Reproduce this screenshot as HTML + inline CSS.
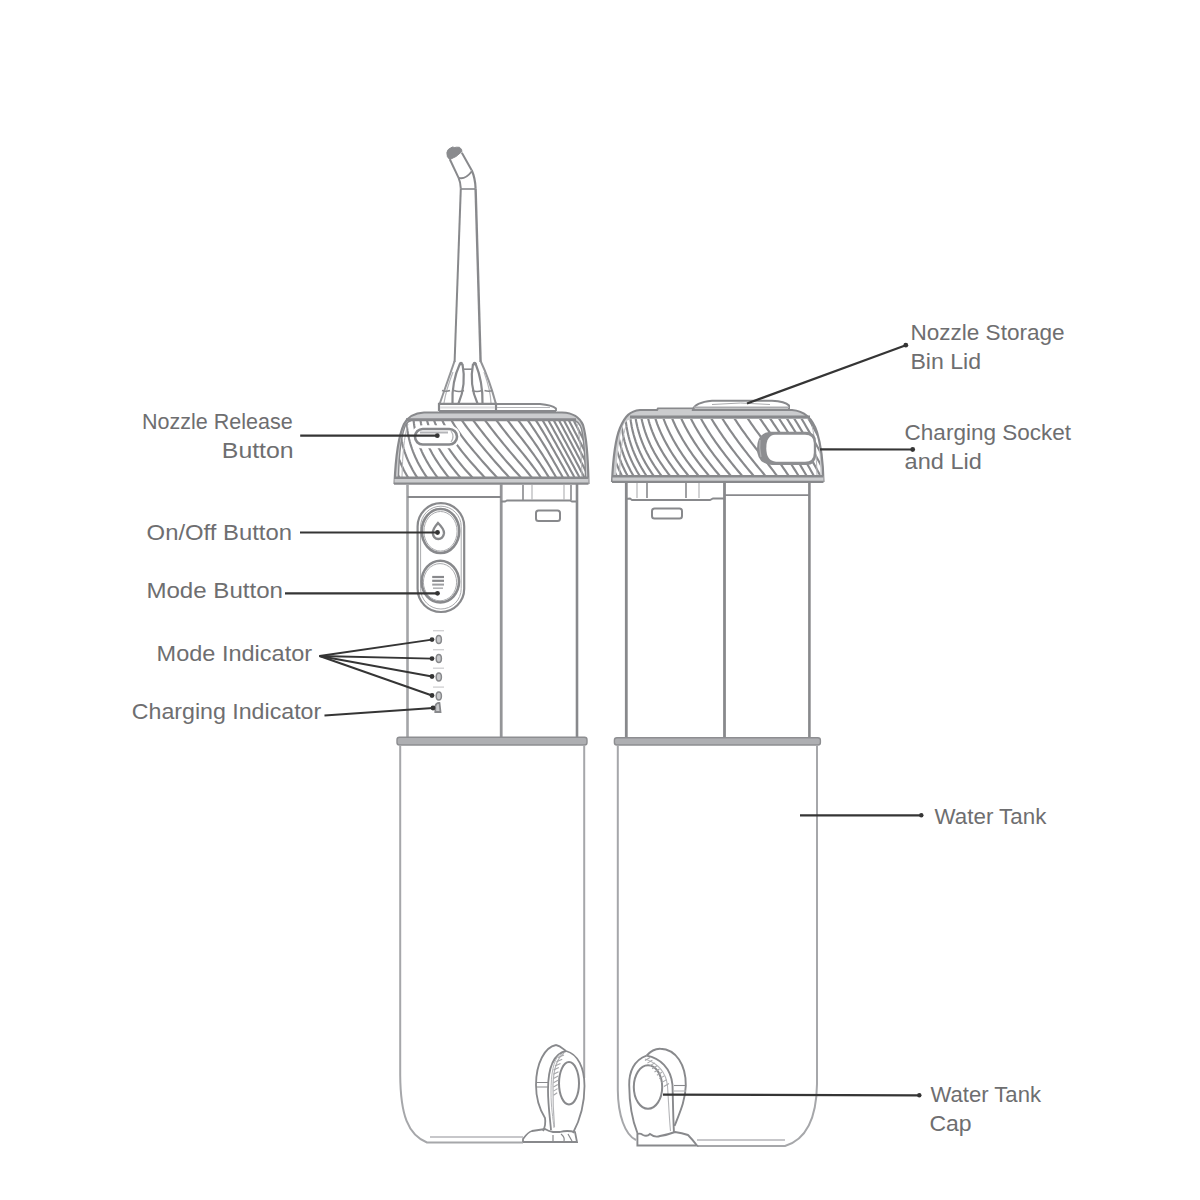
<!DOCTYPE html>
<html><head><meta charset="utf-8"><style>
html,body{margin:0;padding:0;background:#fff;}
svg{display:block;}
text{font-family:"Liberation Sans",sans-serif;}
</style></head><body>
<svg width="1200" height="1200" viewBox="0 0 1200 1200">
<defs><clipPath id="clipL"><path d="M398.5,477 C399,455 401,435 406,424 C408,421.5 410,421 414,421 L572,421 C577,421 580,424 581.5,429 C584,440 585,455 585.5,477 Z"/></clipPath><clipPath id="clipR"><path d="M616,475.5 C617,455 619,437 623,426 C626,420 629,419 634,419 L806,419 C811,419 814,421 816,428 C819,440 820,455 820.5,475.5 Z"/></clipPath></defs>
<rect width="1200" height="1200" fill="#fff"/>
<path d="M394.5,484 C395.5,460 398.5,436 404,424 C408,416.5 414,413 424,412.5 L562,412.5 C575,413 580,418 583,425 C586,435 588,455 588.5,484 Z" stroke="#88898c" stroke-width="0" fill="#cbccce" />
<path d="M398.5,477 C399,455 401,435 406,424 C408,421.5 410,421 414,421 L572,421 C577,421 580,424 581.5,429 C584,440 585,455 585.5,477 Z" stroke="#88898c" stroke-width="0" fill="#fff" />
<g clip-path="url(#clipL)" stroke="#88898c" stroke-width="2.15" fill="none">
<path d="M400.70,480.00 L399.27,477.42 L397.87,474.83 L396.54,472.25 L395.27,469.67 L394.07,467.08 L392.93,464.50 L391.86,461.92 L390.86,459.33 L389.92,456.75 L389.04,454.17 L388.23,451.58 L387.49,449.00 L386.81,446.42 L386.20,443.83 L385.65,441.25 L385.17,438.67 L384.76,436.08 L384.41,433.50 L384.12,430.92 L383.90,428.33 L383.75,425.75 L383.66,423.17 L383.64,420.58 L383.64,418.00"/>
<path d="M409.49,480.00 L407.94,477.42 L406.44,474.83 L405.02,472.25 L403.68,469.67 L402.43,467.08 L401.26,464.50 L400.17,461.92 L399.16,459.33 L398.22,456.75 L397.35,454.17 L396.54,451.58 L395.80,449.00 L395.12,446.42 L394.51,443.83 L393.96,441.25 L393.48,438.67 L393.06,436.08 L392.71,433.50 L392.43,430.92 L392.21,428.33 L392.06,425.75 L391.97,423.17 L391.95,420.58 L391.95,418.00"/>
<path d="M418.78,480.00 L417.12,477.42 L415.50,474.83 L413.96,472.25 L412.50,469.67 L411.13,467.08 L409.83,464.50 L408.62,461.92 L407.49,459.33 L406.43,456.75 L405.46,454.17 L404.56,451.58 L403.75,449.00 L403.01,446.42 L402.35,443.83 L401.76,441.25 L401.25,438.67 L400.81,436.08 L400.45,433.50 L400.16,430.92 L399.93,428.33 L399.78,425.75 L399.69,423.17 L399.67,420.58 L399.67,418.00"/>
<path d="M428.70,480.00 L426.91,477.42 L425.16,474.83 L423.49,472.25 L421.89,469.67 L420.38,467.08 L418.95,464.50 L417.61,461.92 L416.34,459.33 L415.15,456.75 L414.05,454.17 L413.02,451.58 L412.07,449.00 L411.19,446.42 L410.39,443.83 L409.67,441.25 L409.02,438.67 L408.45,436.08 L407.95,433.50 L407.52,430.92 L407.16,428.33 L406.88,425.75 L406.66,423.17 L406.51,420.58 L406.38,418.00"/>
<path d="M439.36,480.00 L437.43,477.42 L435.54,474.83 L433.71,472.25 L431.96,469.67 L430.27,467.08 L428.67,464.50 L427.14,461.92 L425.69,459.33 L424.33,456.75 L423.04,454.17 L421.85,451.58 L420.74,449.00 L419.72,446.42 L418.78,443.83 L417.91,441.25 L417.12,438.67 L416.41,436.08 L415.77,433.50 L415.20,430.92 L414.70,428.33 L414.27,425.75 L413.91,423.17 L413.62,420.58 L413.36,418.00"/>
<path d="M450.81,480.00 L448.71,477.42 L446.66,474.83 L444.67,472.25 L442.74,469.67 L440.87,467.08 L439.08,464.50 L437.35,461.92 L435.69,459.33 L434.11,456.75 L432.61,454.17 L431.18,451.58 L429.83,449.00 L428.57,446.42 L427.39,443.83 L426.29,441.25 L425.28,438.67 L424.35,436.08 L423.50,433.50 L422.74,430.92 L422.06,428.33 L421.46,425.75 L420.94,423.17 L420.49,420.58 L420.09,418.00"/>
<path d="M462.60,480.00 L460.33,477.42 L458.10,474.83 L455.93,472.25 L453.83,469.67 L451.78,467.08 L449.80,464.50 L447.88,461.92 L446.03,459.33 L444.25,456.75 L442.53,454.17 L440.87,451.58 L439.29,449.00 L437.77,446.42 L436.34,443.83 L434.98,441.25 L433.71,438.67 L432.52,436.08 L431.41,433.50 L430.38,430.92 L429.43,428.33 L428.56,425.75 L427.78,423.17 L427.07,420.58 L426.41,418.00"/>
<path d="M474.70,480.00 L472.32,477.42 L469.95,474.83 L467.60,472.25 L465.31,469.67 L463.08,467.08 L460.91,464.50 L458.80,461.92 L456.75,459.33 L454.77,456.75 L452.85,454.17 L450.99,451.58 L449.21,449.00 L447.48,446.42 L445.83,443.83 L444.24,441.25 L442.73,438.67 L441.28,436.08 L439.89,433.50 L438.58,430.92 L437.35,428.33 L436.20,425.75 L435.13,423.17 L434.14,420.58 L433.20,418.00"/>
<path d="M487.00,480.00 L484.62,477.42 L482.25,474.83 L479.90,472.25 L477.57,469.67 L475.26,467.08 L472.97,464.50 L470.71,461.92 L468.46,459.33 L466.26,456.75 L464.12,454.17 L462.05,451.58 L460.04,449.00 L458.10,446.42 L456.22,443.83 L454.41,441.25 L452.67,438.67 L450.99,436.08 L449.39,433.50 L447.85,430.92 L446.38,428.33 L444.97,425.75 L443.64,423.17 L442.37,420.58 L441.15,418.00"/>
<path d="M499.30,480.00 L496.92,477.42 L494.55,474.83 L492.20,472.25 L489.87,469.67 L487.56,467.08 L485.27,464.50 L483.01,461.92 L480.76,459.33 L478.53,456.75 L476.32,454.17 L474.14,451.58 L471.97,449.00 L469.82,446.42 L467.70,443.83 L465.64,441.25 L463.65,438.67 L461.73,436.08 L459.87,433.50 L458.09,430.92 L456.37,428.33 L454.72,425.75 L453.14,423.17 L451.63,420.58 L450.16,418.00"/>
<path d="M511.60,480.00 L509.22,477.42 L506.85,474.83 L504.50,472.25 L502.17,469.67 L499.86,467.08 L497.57,464.50 L495.31,461.92 L493.06,459.33 L490.83,456.75 L488.62,454.17 L486.44,451.58 L484.27,449.00 L482.12,446.42 L479.99,443.83 L477.89,441.25 L475.80,438.67 L473.74,436.08 L471.69,433.50 L469.66,430.92 L467.67,428.33 L465.74,425.75 L463.88,423.17 L462.10,420.58 L460.36,418.00"/>
<path d="M523.14,480.00 L520.85,477.42 L518.51,474.83 L516.16,472.25 L513.83,469.67 L511.52,467.08 L509.23,464.50 L506.96,461.92 L504.71,459.33 L502.49,456.75 L500.28,454.17 L498.09,451.58 L495.92,449.00 L493.78,446.42 L491.65,443.83 L489.54,441.25 L487.46,438.67 L485.39,436.08 L483.35,433.50 L481.32,430.92 L479.32,428.33 L477.33,425.75 L475.37,423.17 L473.42,420.58 L471.48,418.00"/>
<path d="M533.67,480.00 L531.67,477.42 L529.62,474.83 L527.53,472.25 L525.40,469.67 L523.23,467.08 L521.03,464.50 L518.78,461.92 L516.54,459.33 L514.31,456.75 L512.10,454.17 L509.91,451.58 L507.75,449.00 L505.60,446.42 L503.47,443.83 L501.37,441.25 L499.28,438.67 L497.21,436.08 L495.17,433.50 L493.14,430.92 L491.14,428.33 L489.15,425.75 L487.19,423.17 L485.24,420.58 L483.31,418.00"/>
<path d="M542.62,480.00 L540.87,477.42 L539.07,474.83 L537.23,472.25 L535.36,469.67 L533.45,467.08 L531.50,464.50 L529.52,461.92 L527.51,459.33 L525.46,456.75 L523.38,454.17 L521.27,451.58 L519.13,449.00 L516.99,446.42 L514.86,443.83 L512.75,441.25 L510.67,438.67 L508.60,436.08 L506.56,433.50 L504.53,430.92 L502.53,428.33 L500.54,425.75 L498.58,423.17 L496.63,420.58 L494.70,418.00"/>
<path d="M550.43,480.00 L548.88,477.42 L547.30,474.83 L545.68,472.25 L544.03,469.67 L542.35,467.08 L540.63,464.50 L538.88,461.92 L537.09,459.33 L535.28,456.75 L533.43,454.17 L531.55,451.58 L529.64,449.00 L527.71,446.42 L525.75,443.83 L523.77,441.25 L521.76,438.67 L519.73,436.08 L517.68,433.50 L515.66,430.92 L513.65,428.33 L511.67,425.75 L509.70,423.17 L507.76,420.58 L505.82,418.00"/>
<path d="M557.64,480.00 L556.14,477.42 L554.63,474.83 L553.12,472.25 L551.60,469.67 L550.08,467.08 L548.56,464.50 L547.01,461.92 L545.42,459.33 L543.80,456.75 L542.16,454.17 L540.48,451.58 L538.78,449.00 L537.05,446.42 L535.29,443.83 L533.51,441.25 L531.70,438.67 L529.87,436.08 L528.02,433.50 L526.15,430.92 L524.26,428.33 L522.35,425.75 L520.43,423.17 L518.49,420.58 L516.56,418.00"/>
<path d="M564.32,480.00 L562.86,477.42 L561.40,474.83 L559.93,472.25 L558.45,469.67 L556.97,467.08 L555.49,464.50 L554.00,461.92 L552.51,459.33 L551.02,456.75 L549.52,454.17 L548.02,451.58 L546.48,449.00 L544.92,446.42 L543.34,443.83 L541.73,441.25 L540.09,438.67 L538.43,436.08 L536.75,433.50 L535.05,430.92 L533.32,428.33 L531.58,425.75 L529.83,423.17 L528.05,420.58 L526.25,418.00"/>
<path d="M570.39,480.00 L568.97,477.42 L567.54,474.83 L566.11,472.25 L564.67,469.67 L563.23,467.08 L561.78,464.50 L560.33,461.92 L558.88,459.33 L557.42,456.75 L555.96,454.17 L554.49,451.58 L553.03,449.00 L551.56,446.42 L550.09,443.83 L548.62,441.25 L547.13,438.67 L545.61,436.08 L544.07,433.50 L542.51,430.92 L540.93,428.33 L539.33,425.75 L537.71,423.17 L536.07,420.58 L534.41,418.00"/>
<path d="M575.85,480.00 L574.47,477.42 L573.07,474.83 L571.68,472.25 L570.27,469.67 L568.86,467.08 L567.45,464.50 L566.03,461.92 L564.61,459.33 L563.18,456.75 L561.75,454.17 L560.31,451.58 L558.87,449.00 L557.43,446.42 L555.99,443.83 L554.55,441.25 L553.10,438.67 L551.66,436.08 L550.21,433.50 L548.77,430.92 L547.30,428.33 L545.82,425.75 L544.31,423.17 L542.79,420.58 L541.25,418.00"/>
<path d="M580.82,480.00 L579.47,477.42 L578.11,474.83 L576.74,472.25 L575.37,469.67 L573.99,467.08 L572.61,464.50 L571.22,461.92 L569.82,459.33 L568.42,456.75 L567.02,454.17 L565.61,451.58 L564.20,449.00 L562.78,446.42 L561.37,443.83 L559.95,441.25 L558.53,438.67 L557.10,436.08 L555.68,433.50 L554.25,430.92 L552.83,428.33 L551.40,425.75 L549.98,423.17 L548.56,420.58 L547.11,418.00"/>
<path d="M585.63,480.00 L584.31,477.42 L582.98,474.83 L581.64,472.25 L580.30,469.67 L578.95,467.08 L577.60,464.50 L576.23,461.92 L574.87,459.33 L573.49,456.75 L572.11,454.17 L570.73,451.58 L569.35,449.00 L567.96,446.42 L566.56,443.83 L565.17,441.25 L563.77,438.67 L562.37,436.08 L560.96,433.50 L559.56,430.92 L558.15,428.33 L556.75,425.75 L555.34,423.17 L553.94,420.58 L552.53,418.00"/>
<path d="M590.27,480.00 L588.98,477.42 L587.68,474.83 L586.38,472.25 L585.06,469.67 L583.74,467.08 L582.41,464.50 L581.08,461.92 L579.74,459.33 L578.39,456.75 L577.04,454.17 L575.68,451.58 L574.32,449.00 L572.95,446.42 L571.58,443.83 L570.21,441.25 L568.83,438.67 L567.45,436.08 L566.07,433.50 L564.68,430.92 L563.30,428.33 L561.91,425.75 L560.52,423.17 L559.14,420.58 L557.74,418.00"/>
<path d="M594.77,480.00 L593.48,477.42 L592.19,474.83 L590.90,472.25 L589.61,469.67 L588.31,467.08 L587.01,464.50 L585.70,461.92 L584.39,459.33 L583.06,456.75 L581.74,454.17 L580.40,451.58 L579.06,449.00 L577.72,446.42 L576.37,443.83 L575.02,441.25 L573.66,438.67 L572.30,436.08 L570.94,433.50 L569.57,430.92 L568.21,428.33 L566.84,425.75 L565.47,423.17 L564.09,420.58 L562.72,418.00"/>
<path d="M599.27,480.00 L597.98,477.42 L596.69,474.83 L595.40,472.25 L594.11,469.67 L592.81,467.08 L591.52,464.50 L590.23,461.92 L588.94,459.33 L587.64,456.75 L586.34,454.17 L585.03,451.58 L583.71,449.00 L582.39,446.42 L581.06,443.83 L579.73,441.25 L578.40,438.67 L577.06,436.08 L575.71,433.50 L574.36,430.92 L573.01,428.33 L571.66,425.75 L570.31,423.17 L568.95,420.58 L567.59,418.00"/>
<path d="M603.77,480.00 L602.48,477.42 L601.19,474.83 L599.90,472.25 L598.61,469.67 L597.31,467.08 L596.02,464.50 L594.73,461.92 L593.44,459.33 L592.15,456.75 L590.86,454.17 L589.56,451.58 L588.27,449.00 L586.97,446.42 L585.66,443.83 L584.35,441.25 L583.04,438.67 L581.72,436.08 L580.39,433.50 L579.06,430.92 L577.73,428.33 L576.40,425.75 L575.06,423.17 L573.72,420.58 L572.37,418.00"/>
<path d="M608.27,480.00 L606.98,477.42 L605.69,474.83 L604.40,472.25 L603.11,469.67 L601.81,467.08 L600.52,464.50 L599.23,461.92 L597.94,459.33 L596.65,456.75 L595.36,454.17 L594.06,451.58 L592.77,449.00 L591.48,446.42 L590.19,443.83 L588.90,441.25 L587.60,438.67 L586.30,436.08 L584.99,433.50 L583.68,430.92 L582.37,428.33 L581.05,425.75 L579.73,423.17 L578.40,420.58 L577.07,418.00"/>
<path d="M612.77,480.00 L611.48,477.42 L610.19,474.83 L608.90,472.25 L607.61,469.67 L606.31,467.08 L605.02,464.50 L603.73,461.92 L602.44,459.33 L601.15,456.75 L599.86,454.17 L598.56,451.58 L597.27,449.00 L595.98,446.42 L594.69,443.83 L593.40,441.25 L592.11,438.67 L590.81,436.08 L589.52,433.50 L588.23,430.92 L586.93,428.33 L585.63,425.75 L584.32,423.17 L583.01,420.58 L581.70,418.00"/>
<path d="M617.27,480.00 L615.98,477.42 L614.69,474.83 L613.40,472.25 L612.11,469.67 L610.81,467.08 L609.52,464.50 L608.23,461.92 L606.94,459.33 L605.65,456.75 L604.36,454.17 L603.06,451.58 L601.77,449.00 L600.48,446.42 L599.19,443.83 L597.90,441.25 L596.61,438.67 L595.31,436.08 L594.02,433.50 L592.73,430.92 L591.44,428.33 L590.15,425.75 L588.86,423.17 L587.56,420.58 L586.26,418.00"/>
<path d="M621.77,480.00 L620.48,477.42 L619.19,474.83 L617.90,472.25 L616.61,469.67 L615.31,467.08 L614.02,464.50 L612.73,461.92 L611.44,459.33 L610.15,456.75 L608.86,454.17 L607.56,451.58 L606.27,449.00 L604.98,446.42 L603.69,443.83 L602.40,441.25 L601.11,438.67 L599.81,436.08 L598.52,433.50 L597.23,430.92 L595.94,428.33 L594.65,425.75 L593.36,423.17 L592.06,420.58 L590.77,418.00"/>
<path d="M626.27,480.00 L624.98,477.42 L623.69,474.83 L622.40,472.25 L621.11,469.67 L619.81,467.08 L618.52,464.50 L617.23,461.92 L615.94,459.33 L614.65,456.75 L613.36,454.17 L612.06,451.58 L610.77,449.00 L609.48,446.42 L608.19,443.83 L606.90,441.25 L605.61,438.67 L604.31,436.08 L603.02,433.50 L601.73,430.92 L600.44,428.33 L599.15,425.75 L597.86,423.17 L596.56,420.58 L595.27,418.00"/>
<path d="M630.77,480.00 L629.48,477.42 L628.19,474.83 L626.90,472.25 L625.61,469.67 L624.31,467.08 L623.02,464.50 L621.73,461.92 L620.44,459.33 L619.15,456.75 L617.86,454.17 L616.56,451.58 L615.27,449.00 L613.98,446.42 L612.69,443.83 L611.40,441.25 L610.11,438.67 L608.81,436.08 L607.52,433.50 L606.23,430.92 L604.94,428.33 L603.65,425.75 L602.36,423.17 L601.06,420.58 L599.77,418.00"/>
<path d="M635.27,480.00 L633.98,477.42 L632.69,474.83 L631.40,472.25 L630.11,469.67 L628.81,467.08 L627.52,464.50 L626.23,461.92 L624.94,459.33 L623.65,456.75 L622.36,454.17 L621.06,451.58 L619.77,449.00 L618.48,446.42 L617.19,443.83 L615.90,441.25 L614.61,438.67 L613.31,436.08 L612.02,433.50 L610.73,430.92 L609.44,428.33 L608.15,425.75 L606.86,423.17 L605.56,420.58 L604.27,418.00"/>
<path d="M639.77,480.00 L638.48,477.42 L637.19,474.83 L635.90,472.25 L634.61,469.67 L633.31,467.08 L632.02,464.50 L630.73,461.92 L629.44,459.33 L628.15,456.75 L626.86,454.17 L625.56,451.58 L624.27,449.00 L622.98,446.42 L621.69,443.83 L620.40,441.25 L619.11,438.67 L617.81,436.08 L616.52,433.50 L615.23,430.92 L613.94,428.33 L612.65,425.75 L611.36,423.17 L610.06,420.58 L608.77,418.00"/>
</g>
<path d="M394.5,484 C395.5,460 398.5,436 404,424 C408,416.5 414,413 424,412.5 L562,412.5 C575,413 580,418 583,425 C586,435 588,455 588.5,484" stroke="#88898c" stroke-width="2.2" fill="none" />
<path d="M398.5,477 C399,455 401,435 406,424 C408,421.5 410,420.5 414,419.8 L572,419.8 C577,420.5 580,424 581.5,429 C584,440 585,455 585.5,477" stroke="#88898c" stroke-width="1.4" fill="none" />
<line x1="406" y1="419.7" x2="576" y2="419.7" stroke="#88898c" stroke-width="3.0" />
<path d="M402,477 C402.5,455 404,437 408,424" stroke="#b4b5b8" stroke-width="1.0" fill="none" />
<path d="M582,477 C581.5,455 580,437 577,424" stroke="#b4b5b8" stroke-width="1.0" fill="none" />
<rect x="394.5" y="477.5" width="194" height="6.5" rx="0" stroke="#88898c" stroke-width="0" fill="#cbccce" />
<line x1="394" y1="477.8" x2="588.5" y2="477.8" stroke="#88898c" stroke-width="2.6" />
<line x1="394" y1="483.6" x2="588.5" y2="483.6" stroke="#88898c" stroke-width="2.2" />
<rect x="413.5" y="427.5" width="44.5" height="18.5" rx="9.2" stroke="#fff" stroke-width="4.5" fill="#fff" />
<rect x="415" y="429" width="42" height="15.5" rx="7.7" stroke="#88898c" stroke-width="2.6" fill="#fff" />
<path d="M420,432.5 L448,432.5" stroke="#b4b5b8" stroke-width="2.0" fill="none" />
<path d="M451,431 Q455,436.5 451,442" stroke="#b4b5b8" stroke-width="1.2" fill="none" />
<path d="M446.9,152.5 Q447.5,149 451,147.8 L452.5,147 Q455,148 456.5,147.2 L459.5,147.3 Q462,149 462,151.5 L456,156.5 L449.8,159.5 Q446.5,157.5 446.9,152.5 Z" stroke="#8a8b8e" stroke-width="1.0" fill="#8a8b8e" />
<path d="M449.8,159.3 L458.6,177.9" stroke="#88898c" stroke-width="2.0" fill="none" />
<path d="M461.8,152.8 L471.7,170.3" stroke="#88898c" stroke-width="2.0" fill="none" />
<path d="M458.6,177.9 Q465,180 471.7,171.5" stroke="#88898c" stroke-width="2.0" fill="none" />
<path d="M458.6,177.9 Q460.5,182 460.8,188.6" stroke="#88898c" stroke-width="2.0" fill="none" />
<path d="M471.7,170.3 Q475.2,178 475.6,188.6" stroke="#88898c" stroke-width="2.2" fill="none" />
<line x1="460.8" y1="189" x2="475.6" y2="189" stroke="#88898c" stroke-width="1.6" />
<path d="M460.8,188.6 L454.6,362" stroke="#88898c" stroke-width="2.0" fill="none" />
<path d="M475.6,188.6 L480.6,362" stroke="#88898c" stroke-width="2.4" fill="none" />
<path d="M454.6,361 Q447,383 439.8,403.5" stroke="#939497" stroke-width="2.0" fill="none" />
<path d="M453,372 Q446,390 444,403" stroke="#b4b5b8" stroke-width="1.2" fill="none" />
<path d="M460,363.5 Q451.5,382 452.5,403.5" stroke="#88898c" stroke-width="2.2" fill="none" />
<path d="M462.5,364 Q466.5,385 458.5,403.5" stroke="#88898c" stroke-width="2.2" fill="none" />
<path d="M475.5,363.5 Q483,382 482.5,403.5" stroke="#88898c" stroke-width="2.2" fill="none" />
<path d="M473,364 Q469,385 477.5,403.5" stroke="#88898c" stroke-width="2.2" fill="none" />
<path d="M480.6,361 Q489.5,380 495.8,403.5" stroke="#939497" stroke-width="2.0" fill="none" />
<path d="M484,372 Q490.5,390 491,403" stroke="#b4b5b8" stroke-width="1.2" fill="none" />
<ellipse cx="461" cy="363.6" rx="2.0" ry="1.8" stroke="#88898c" stroke-width="0" fill="#88898c" />
<ellipse cx="474.6" cy="363.6" rx="2.0" ry="1.8" stroke="#88898c" stroke-width="0" fill="#88898c" />
<line x1="463.7" y1="369.2" x2="472.5" y2="369.2" stroke="#88898c" stroke-width="1.6" />
<path d="M442,390.5 Q446,392 450,390.5 M454,390.5 Q459,392.5 464,390.5 M472,390.5 Q477,392.5 482,390.5 M484.5,390.5 Q489,392 492.5,390.5" stroke="#88898c" stroke-width="1.6" fill="none" />
<path d="M439,411 L439,403.8 L496,403.8 L496,411" stroke="#88898c" stroke-width="2.2" fill="none" />
<path d="M496,404 L540,404 Q552,405 556,408.5 L556,411" stroke="#88898c" stroke-width="1.8" fill="none" />
<line x1="440" y1="407.6" x2="495" y2="407.6" stroke="#dcdcde" stroke-width="2.0" />
<line x1="497" y1="407.5" x2="550" y2="407.5" stroke="#b4b5b8" stroke-width="1.2" />
<line x1="439" y1="411" x2="556" y2="411" stroke="#88898c" stroke-width="2.2" />
<line x1="407.5" y1="484" x2="407.5" y2="737" stroke="#a4a5a8" stroke-width="2.6" />
<line x1="501.2" y1="484" x2="501.2" y2="737" stroke="#949598" stroke-width="2.8" />
<line x1="577" y1="484" x2="577" y2="737" stroke="#88898c" stroke-width="2.6" />
<line x1="407.5" y1="497" x2="501" y2="497" stroke="#88898c" stroke-width="1.8" />
<path d="M501,501.5 L505,501.5 L507,500.5 L570,500.5 L572,501.5 L577,501.5" stroke="#88898c" stroke-width="1.8" fill="none" />
<line x1="523" y1="485" x2="523" y2="500" stroke="#88898c" stroke-width="1.6" />
<line x1="532" y1="485" x2="532" y2="500" stroke="#b4b5b8" stroke-width="1.2" />
<line x1="564" y1="485" x2="564" y2="500" stroke="#b4b5b8" stroke-width="1.2" />
<line x1="571" y1="485" x2="571" y2="500" stroke="#88898c" stroke-width="1.6" />
<rect x="536" y="510.5" width="24" height="10.5" rx="2.5" stroke="#88898c" stroke-width="2.0" fill="none" />
<rect x="417.6" y="503.2" width="46.6" height="108.8" rx="23.3" stroke="#88898c" stroke-width="2.2" fill="none" />
<rect x="420.6" y="506.2" width="40.6" height="102.8" rx="20.3" stroke="#a9aaad" stroke-width="1.0" fill="none" />
<ellipse cx="440.5" cy="531.0" rx="18.7" ry="22.0" stroke="#88898c" stroke-width="2.6" fill="none" />
<ellipse cx="440.5" cy="531.3" rx="16.6" ry="19.8" stroke="#a9aaad" stroke-width="1.0" fill="none" />
<ellipse cx="440.3" cy="581.6" rx="18.7" ry="20.8" stroke="#88898c" stroke-width="2.6" fill="none" />
<ellipse cx="440.0" cy="582.2" rx="16.6" ry="18.6" stroke="#a9aaad" stroke-width="1.0" fill="none" />
<path d="M438,523 C434,527.5 432.6,530.5 432.8,533.2 C433.2,537 435.5,539 438.3,539 C441,539 443.6,537 444,533.2 C444.2,530.5 442.6,527.5 438,523 Z" stroke="#88898c" stroke-width="2.4" fill="none" />
<line x1="432.2" y1="577.0" x2="444" y2="577.0" stroke="#88898c" stroke-width="2.2" />
<line x1="432.2" y1="580.8" x2="444" y2="580.8" stroke="#88898c" stroke-width="2.2" />
<line x1="432.2" y1="584.6" x2="444" y2="584.6" stroke="#9d9ea1" stroke-width="2.0" />
<line x1="433" y1="588.2" x2="443" y2="588.2" stroke="#b3b4b6" stroke-width="1.6" />
<ellipse cx="438.8" cy="639.5" rx="2.6" ry="4.0" stroke="#88898c" stroke-width="1.5" fill="#c9cacc" />
<line x1="433" y1="630.7" x2="444" y2="630.7" stroke="#d2d2d4" stroke-width="1.4" />
<ellipse cx="438.8" cy="658.5" rx="2.6" ry="4.0" stroke="#88898c" stroke-width="1.5" fill="#c9cacc" />
<line x1="433" y1="649.7" x2="444" y2="649.7" stroke="#d2d2d4" stroke-width="1.4" />
<ellipse cx="438.8" cy="677" rx="2.6" ry="4.0" stroke="#88898c" stroke-width="1.5" fill="#c9cacc" />
<line x1="433" y1="668.2" x2="444" y2="668.2" stroke="#d2d2d4" stroke-width="1.4" />
<ellipse cx="438.8" cy="695.9" rx="2.6" ry="4.0" stroke="#88898c" stroke-width="1.5" fill="#c9cacc" />
<line x1="433" y1="687.1" x2="444" y2="687.1" stroke="#d2d2d4" stroke-width="1.4" />
<path d="M435.3,712 L435.3,706 Q436.5,702.6 439.5,703 L440.5,712 Z" stroke="#88898c" stroke-width="1.8" fill="#c8c9cb" />
<rect x="397" y="737.2" width="190" height="7.8" rx="2.5" stroke="#8d8e91" stroke-width="1.4" fill="#aeafb2" />
<path d="M400.2,745 L400.2,1075 C400.5,1115 408,1135 427,1142.5 L523,1142.5" stroke="#a6a7aa" stroke-width="2.0" fill="none" />
<line x1="430" y1="1137" x2="523" y2="1137" stroke="#b4b5b8" stroke-width="1.4" />
<line x1="584.2" y1="745" x2="584.2" y2="1078" stroke="#a6a7aa" stroke-width="2.0" />
<path d="M556,1045 C545,1047 536,1063 536,1085 C536,1100 540,1110 545,1118 C546,1124 544,1129 543,1131" stroke="#88898c" stroke-width="1.8" fill="none" />
<path d="M556,1045 C561,1046 563,1049 566,1051" stroke="#88898c" stroke-width="1.8" fill="none" />
<path d="M566,1051 C578,1054 584.5,1068 584.5,1086 C584.5,1105 580,1120 573,1133" stroke="#88898c" stroke-width="1.8" fill="none" />
<path d="M566,1051 C553,1054 548,1070 548,1090 C548,1105 550,1118 551,1130" stroke="#88898c" stroke-width="1.8" fill="none" />
<path d="M560,1054 C553,1060 551,1075 551,1092 C551,1108 553,1118 554,1128" stroke="#b4b5b8" stroke-width="1.0" fill="none" />
<ellipse cx="569" cy="1083.3" rx="10" ry="21.2" stroke="#88898c" stroke-width="2.0" fill="none" />
<line x1="536" y1="1082.5" x2="548" y2="1082.5" stroke="#88898c" stroke-width="1.0" />
<line x1="536" y1="1087" x2="548" y2="1087" stroke="#88898c" stroke-width="1.0" />
<path d="M523,1142 L523,1139 Q528,1132 532,1131 L545,1129 Q548,1131 553,1132 L560,1132 Q567,1130 575,1132 L577,1142 L523,1142" stroke="#88898c" stroke-width="1.8" fill="none" />
<path d="M553,1135 L553,1141 M561,1134 Q565,1137 564,1141 M568,1134 L572,1141" stroke="#88898c" stroke-width="1.2" fill="none" />
<path d="M564,1053 C557,1058 553.5,1070 553,1085 C552.8,1100 553.5,1115 554.5,1127" stroke="#b4b5b8" stroke-width="1.2" fill="none" />
<line x1="558.0" y1="1057.5" x2="564.0" y2="1055.0" stroke="#a5a6a9" stroke-width="1.1" />
<line x1="556.5" y1="1061.7" x2="562.2" y2="1059.2" stroke="#a5a6a9" stroke-width="1.1" />
<line x1="555.0" y1="1065.9" x2="560.5" y2="1063.4" stroke="#a5a6a9" stroke-width="1.1" />
<line x1="553.5" y1="1070.1" x2="558.8" y2="1067.6" stroke="#a5a6a9" stroke-width="1.1" />
<line x1="553.5" y1="1074.3" x2="558.5" y2="1071.8" stroke="#a5a6a9" stroke-width="1.1" />
<line x1="553.5" y1="1078.5" x2="558.2" y2="1076.0" stroke="#a5a6a9" stroke-width="1.1" />
<line x1="553.5" y1="1082.7" x2="558.0" y2="1080.2" stroke="#a5a6a9" stroke-width="1.1" />
<line x1="553.5" y1="1086.9" x2="557.8" y2="1084.4" stroke="#a5a6a9" stroke-width="1.1" />
<line x1="553.5" y1="1091.1" x2="557.5" y2="1088.6" stroke="#a5a6a9" stroke-width="1.1" />
<line x1="553.5" y1="1095.3" x2="557.2" y2="1092.8" stroke="#a5a6a9" stroke-width="1.1" />
<path d="M612,482 C613,460 615,440 620,428 C625,416 630,411 640,410 L792,410 C806,411 813,420 817,432 C821,445 823,460 823.5,482 Z" stroke="#88898c" stroke-width="0" fill="#cbccce" />
<path d="M616,475.5 C617,455 619,437 623,426 C626,420 629,419 634,419 L806,419 C811,419 814,421 816,428 C819,440 820,455 820.5,475.5 Z" stroke="#88898c" stroke-width="0" fill="#fff" />
<g clip-path="url(#clipR)" stroke="#88898c" stroke-width="2.15" fill="none">
<path d="M618.00,478.50 L616.70,475.90 L615.41,473.29 L614.19,470.69 L613.01,468.08 L611.89,465.48 L610.82,462.87 L609.81,460.27 L608.85,457.67 L607.94,455.06 L607.09,452.46 L606.30,449.85 L605.55,447.25 L604.86,444.65 L604.23,442.04 L603.65,439.44 L603.12,436.83 L602.65,434.23 L602.23,431.62 L601.86,429.02 L601.55,426.42 L601.29,423.81 L601.09,421.21 L600.94,418.60 L600.81,416.00"/>
<path d="M623.40,478.50 L622.04,475.90 L620.73,473.29 L619.49,470.69 L618.31,468.08 L617.19,465.48 L616.12,462.87 L615.11,460.27 L614.15,457.67 L613.25,455.06 L612.40,452.46 L611.60,449.85 L610.86,447.25 L610.17,444.65 L609.53,442.04 L608.95,439.44 L608.42,436.83 L607.95,434.23 L607.53,431.62 L607.17,429.02 L606.85,426.42 L606.60,423.81 L606.39,421.21 L606.25,418.60 L606.12,416.00"/>
<path d="M629.07,478.50 L627.63,475.90 L626.22,473.29 L624.90,470.69 L623.64,468.08 L622.46,465.48 L621.35,462.87 L620.32,460.27 L619.35,457.67 L618.45,455.06 L617.60,452.46 L616.80,449.85 L616.06,447.25 L615.37,444.65 L614.73,442.04 L614.15,439.44 L613.62,436.83 L613.15,434.23 L612.73,431.62 L612.37,429.02 L612.06,426.42 L611.80,423.81 L611.60,421.21 L611.45,418.60 L611.32,416.00"/>
<path d="M635.02,478.50 L633.49,475.90 L631.99,473.29 L630.57,470.69 L629.23,468.08 L627.96,465.48 L626.76,462.87 L625.63,460.27 L624.58,457.67 L623.60,455.06 L622.68,452.46 L621.84,449.85 L621.07,447.25 L620.36,444.65 L619.72,442.04 L619.13,439.44 L618.61,436.83 L618.13,434.23 L617.72,431.62 L617.35,429.02 L617.04,426.42 L616.78,423.81 L616.58,421.21 L616.43,418.60 L616.30,416.00"/>
<path d="M641.40,478.50 L639.76,475.90 L638.17,473.29 L636.65,470.69 L635.21,468.08 L633.84,465.48 L632.55,462.87 L631.32,460.27 L630.18,457.67 L629.10,455.06 L628.09,452.46 L627.15,449.85 L626.29,447.25 L625.49,444.65 L624.75,442.04 L624.09,439.44 L623.48,436.83 L622.95,434.23 L622.47,431.62 L622.06,429.02 L621.71,426.42 L621.42,423.81 L621.19,421.21 L621.02,418.60 L620.87,416.00"/>
<path d="M648.26,478.50 L646.50,475.90 L644.79,473.29 L643.17,470.69 L641.61,468.08 L640.14,465.48 L638.74,462.87 L637.42,460.27 L636.17,457.67 L634.99,455.06 L633.88,452.46 L632.84,449.85 L631.88,447.25 L630.98,444.65 L630.15,442.04 L629.38,439.44 L628.68,436.83 L628.05,434.23 L627.48,431.62 L626.98,429.02 L626.53,426.42 L626.15,423.81 L625.83,421.21 L625.57,418.60 L625.33,416.00"/>
<path d="M655.62,478.50 L653.75,475.90 L651.92,473.29 L650.16,470.69 L648.49,468.08 L646.90,465.48 L645.38,462.87 L643.95,460.27 L642.58,457.67 L641.29,455.06 L640.07,452.46 L638.93,449.85 L637.86,447.25 L636.85,444.65 L635.91,442.04 L635.05,439.44 L634.25,436.83 L633.51,434.23 L632.84,431.62 L632.23,429.02 L631.69,426.42 L631.21,423.81 L630.79,421.21 L630.43,418.60 L630.10,416.00"/>
<path d="M663.55,478.50 L661.57,475.90 L659.63,473.29 L657.74,470.69 L655.94,468.08 L654.22,465.48 L652.58,462.87 L651.01,460.27 L649.52,457.67 L648.11,455.06 L646.77,452.46 L645.50,449.85 L644.31,447.25 L643.19,444.65 L642.14,442.04 L641.16,439.44 L640.24,436.83 L639.40,434.23 L638.62,431.62 L637.90,429.02 L637.25,426.42 L636.67,423.81 L636.14,421.21 L635.68,418.60 L635.24,416.00"/>
<path d="M672.06,478.50 L670.04,475.90 L668.04,473.29 L666.10,470.69 L664.21,468.08 L662.39,465.48 L660.63,462.87 L658.93,460.27 L657.30,457.67 L655.75,455.06 L654.27,452.46 L652.87,449.85 L651.54,447.25 L650.29,444.65 L649.11,442.04 L648.00,439.44 L646.96,436.83 L645.99,434.23 L645.08,431.62 L644.25,429.02 L643.47,426.42 L642.77,423.81 L642.13,421.21 L641.55,418.60 L641.00,416.00"/>
<path d="M681.17,478.50 L679.08,475.90 L677.03,473.29 L675.03,470.69 L673.09,468.08 L671.20,465.48 L669.37,462.87 L667.60,460.27 L665.89,457.67 L664.24,455.06 L662.65,452.46 L661.13,449.85 L659.66,447.25 L658.26,444.65 L656.93,442.04 L655.67,439.44 L654.49,436.83 L653.38,434.23 L652.33,431.62 L651.36,429.02 L650.45,426.42 L649.61,423.81 L648.84,421.21 L648.13,418.60 L647.45,416.00"/>
<path d="M690.72,478.50 L688.59,475.90 L686.47,473.29 L684.41,470.69 L682.41,468.08 L680.45,465.48 L678.56,462.87 L676.71,460.27 L674.93,457.67 L673.20,455.06 L671.54,452.46 L669.93,449.85 L668.38,447.25 L666.89,444.65 L665.46,442.04 L664.09,439.44 L662.78,436.83 L661.54,434.23 L660.35,431.62 L659.23,429.02 L658.17,426.42 L657.18,423.81 L656.26,421.21 L655.40,418.60 L654.58,416.00"/>
<path d="M700.76,478.50 L698.60,475.90 L696.45,473.29 L694.35,470.69 L692.29,468.08 L690.27,465.48 L688.30,462.87 L686.39,460.27 L684.52,457.67 L682.72,455.06 L680.96,452.46 L679.27,449.85 L677.63,447.25 L676.05,444.65 L674.53,442.04 L673.07,439.44 L671.67,436.83 L670.32,434.23 L669.04,431.62 L667.81,429.02 L666.65,426.42 L665.54,423.81 L664.49,421.21 L663.51,418.60 L662.55,416.00"/>
<path d="M711.28,478.50 L709.09,475.90 L706.91,473.29 L704.78,470.69 L702.68,468.08 L700.63,465.48 L698.61,462.87 L696.64,460.27 L694.72,457.67 L692.84,455.06 L691.01,452.46 L689.23,449.85 L687.50,447.25 L685.82,444.65 L684.20,442.04 L682.64,439.44 L681.14,436.83 L679.69,434.23 L678.30,431.62 L676.96,429.02 L675.69,426.42 L674.47,423.81 L673.31,421.21 L672.21,418.60 L671.14,416.00"/>
<path d="M722.06,478.50 L719.85,475.90 L717.64,473.29 L715.47,470.69 L713.34,468.08 L711.25,465.48 L709.19,462.87 L707.17,460.27 L705.20,457.67 L703.26,455.06 L701.37,452.46 L699.53,449.85 L697.73,447.25 L695.98,444.65 L694.28,442.04 L692.62,439.44 L691.02,436.83 L689.46,434.23 L687.96,431.62 L686.52,429.02 L685.13,426.42 L683.80,423.81 L682.52,421.21 L681.30,418.60 L680.11,416.00"/>
<path d="M733.11,478.50 L730.90,475.90 L728.69,473.29 L726.51,470.69 L724.36,468.08 L722.24,465.48 L720.14,462.87 L718.08,460.27 L716.05,457.67 L714.06,455.06 L712.11,452.46 L710.20,449.85 L708.33,447.25 L706.51,444.65 L704.73,442.04 L703.00,439.44 L701.32,436.83 L699.68,434.23 L698.09,431.62 L696.55,429.02 L695.06,426.42 L693.62,423.81 L692.23,421.21 L690.89,418.60 L689.58,416.00"/>
<path d="M744.44,478.50 L742.23,475.90 L740.02,473.29 L737.84,470.69 L735.68,468.08 L733.55,465.48 L731.44,462.87 L729.36,460.27 L727.30,457.67 L725.28,455.06 L723.29,452.46 L721.32,449.85 L719.39,447.25 L717.50,444.65 L715.64,442.04 L713.83,439.44 L712.06,436.83 L710.33,434.23 L708.65,431.62 L707.02,429.02 L705.43,426.42 L703.89,423.81 L702.40,421.21 L700.96,418.60 L699.54,416.00"/>
<path d="M755.94,478.50 L753.73,475.90 L751.52,473.29 L749.33,470.69 L747.17,468.08 L745.03,465.48 L742.91,462.87 L740.81,460.27 L738.74,457.67 L736.70,455.06 L734.68,452.46 L732.69,449.85 L730.73,447.25 L728.80,444.65 L726.90,442.04 L725.04,439.44 L723.20,436.83 L721.40,434.23 L719.63,431.62 L717.90,429.02 L716.21,426.42 L714.57,423.81 L712.97,421.21 L711.42,418.60 L709.90,416.00"/>
<path d="M767.44,478.50 L765.35,475.90 L763.23,473.29 L761.09,470.69 L758.93,468.08 L756.78,465.48 L754.65,462.87 L752.54,460.27 L750.45,457.67 L748.39,455.06 L746.35,452.46 L744.33,449.85 L742.34,447.25 L740.38,444.65 L738.45,442.04 L736.54,439.44 L734.67,436.83 L732.83,434.23 L731.01,431.62 L729.23,429.02 L727.49,426.42 L725.77,423.81 L724.09,421.21 L722.45,418.60 L720.82,416.00"/>
<path d="M778.94,478.50 L777.03,475.90 L775.10,473.29 L773.15,470.69 L771.18,468.08 L769.19,465.48 L767.19,462.87 L765.17,460.27 L763.14,457.67 L761.10,455.06 L759.05,452.46 L757.01,449.85 L754.99,447.25 L752.99,444.65 L751.02,442.04 L749.08,439.44 L747.16,436.83 L745.27,434.23 L743.41,431.62 L741.57,429.02 L739.77,426.42 L738.00,423.81 L736.26,421.21 L734.55,418.60 L732.86,416.00"/>
<path d="M790.44,478.50 L788.72,475.90 L786.98,473.29 L785.21,470.69 L783.42,468.08 L781.62,465.48 L779.79,462.87 L777.95,460.27 L776.09,457.67 L774.22,455.06 L772.33,452.46 L770.44,449.85 L768.53,447.25 L766.62,444.65 L764.69,442.04 L762.77,439.44 L760.84,436.83 L758.91,434.23 L757.00,431.62 L755.11,429.02 L753.25,426.42 L751.41,423.81 L749.61,421.21 L747.83,418.60 L746.07,416.00"/>
<path d="M800.11,478.50 L798.55,475.90 L796.97,473.29 L795.36,470.69 L793.72,468.08 L792.07,465.48 L790.39,462.87 L788.70,460.27 L786.98,457.67 L785.25,455.06 L783.50,452.46 L781.74,449.85 L779.97,447.25 L778.18,444.65 L776.38,442.04 L774.58,439.44 L772.77,436.83 L770.95,434.23 L769.13,431.62 L767.30,429.02 L765.48,426.42 L763.66,423.81 L761.83,421.21 L760.02,418.60 L758.19,416.00"/>
<path d="M808.10,478.50 L806.61,475.90 L805.10,473.29 L803.59,470.69 L802.05,468.08 L800.51,465.48 L798.95,462.87 L797.38,460.27 L795.78,457.67 L794.16,455.06 L792.52,452.46 L790.87,449.85 L789.20,447.25 L787.52,444.65 L785.82,442.04 L784.12,439.44 L782.40,436.83 L780.67,434.23 L778.94,431.62 L777.19,429.02 L775.45,426.42 L773.70,423.81 L771.95,421.21 L770.20,418.60 L768.44,416.00"/>
<path d="M815.29,478.50 L813.86,475.90 L812.42,473.29 L810.96,470.69 L809.50,468.08 L808.02,465.48 L806.52,462.87 L805.02,460.27 L803.50,457.67 L801.97,455.06 L800.42,452.46 L798.86,449.85 L797.29,447.25 L795.70,444.65 L794.09,442.04 L792.46,439.44 L790.83,436.83 L789.18,434.23 L787.52,431.62 L785.85,429.02 L784.18,426.42 L782.49,423.81 L780.81,421.21 L779.12,418.60 L777.42,416.00"/>
<path d="M821.76,478.50 L820.39,475.90 L819.00,473.29 L817.61,470.69 L816.20,468.08 L814.77,465.48 L813.34,462.87 L811.89,460.27 L810.43,457.67 L808.96,455.06 L807.48,452.46 L805.98,449.85 L804.47,447.25 L802.95,444.65 L801.41,442.04 L799.86,439.44 L798.29,436.83 L796.72,434.23 L795.12,431.62 L793.52,429.02 L791.91,426.42 L790.28,423.81 L788.65,421.21 L787.01,418.60 L785.37,416.00"/>
<path d="M827.76,478.50 L826.44,475.90 L825.11,473.29 L823.76,470.69 L822.41,468.08 L821.04,465.48 L819.66,462.87 L818.27,460.27 L816.86,457.67 L815.45,455.06 L814.02,452.46 L812.58,449.85 L811.12,447.25 L809.66,444.65 L808.18,442.04 L806.69,439.44 L805.18,436.83 L803.67,434.23 L802.14,431.62 L800.59,429.02 L799.03,426.42 L797.47,423.81 L795.88,421.21 L794.29,418.60 L792.69,416.00"/>
<path d="M833.76,478.50 L832.46,475.90 L831.16,473.29 L829.86,470.69 L828.55,468.08 L827.24,465.48 L825.91,462.87 L824.57,460.27 L823.23,457.67 L821.86,455.06 L820.49,452.46 L819.11,449.85 L817.71,447.25 L816.30,444.65 L814.88,442.04 L813.45,439.44 L812.00,436.83 L810.54,434.23 L809.07,431.62 L807.59,429.02 L806.09,426.42 L804.58,423.81 L803.06,421.21 L801.52,418.60 L799.97,416.00"/>
<path d="M839.76,478.50 L838.46,475.90 L837.16,473.29 L835.86,470.69 L834.55,468.08 L833.25,465.48 L831.95,462.87 L830.65,460.27 L829.35,457.67 L828.04,455.06 L826.72,452.46 L825.39,449.85 L824.05,447.25 L822.69,444.65 L821.33,442.04 L819.95,439.44 L818.56,436.83 L817.16,434.23 L815.75,431.62 L814.32,429.02 L812.88,426.42 L811.43,423.81 L809.97,421.21 L808.49,418.60 L807.00,416.00"/>
<path d="M845.76,478.50 L844.46,475.90 L843.16,473.29 L841.86,470.69 L840.55,468.08 L839.25,465.48 L837.95,462.87 L836.65,460.27 L835.35,457.67 L834.04,455.06 L832.74,452.46 L831.44,449.85 L830.14,447.25 L828.84,444.65 L827.52,442.04 L826.20,439.44 L824.86,436.83 L823.52,434.23 L822.16,431.62 L820.79,429.02 L819.41,426.42 L818.01,423.81 L816.61,421.21 L815.19,418.60 L813.76,416.00"/>
<path d="M851.76,478.50 L850.46,475.90 L849.16,473.29 L847.86,470.69 L846.55,468.08 L845.25,465.48 L843.95,462.87 L842.65,460.27 L841.35,457.67 L840.04,455.06 L838.74,452.46 L837.44,449.85 L836.14,447.25 L834.84,444.65 L833.53,442.04 L832.23,439.44 L830.93,436.83 L829.63,434.23 L828.32,431.62 L827.01,429.02 L825.68,426.42 L824.34,423.81 L822.99,421.21 L821.62,418.60 L820.25,416.00"/>
<path d="M857.76,478.50 L856.46,475.90 L855.16,473.29 L853.86,470.69 L852.55,468.08 L851.25,465.48 L849.95,462.87 L848.65,460.27 L847.35,457.67 L846.04,455.06 L844.74,452.46 L843.44,449.85 L842.14,447.25 L840.84,444.65 L839.53,442.04 L838.23,439.44 L836.93,436.83 L835.63,434.23 L834.32,431.62 L833.02,429.02 L831.72,426.42 L830.42,423.81 L829.12,421.21 L827.81,418.60 L826.49,416.00"/>
<path d="M863.76,478.50 L862.46,475.90 L861.16,473.29 L859.86,470.69 L858.55,468.08 L857.25,465.48 L855.95,462.87 L854.65,460.27 L853.35,457.67 L852.04,455.06 L850.74,452.46 L849.44,449.85 L848.14,447.25 L846.84,444.65 L845.53,442.04 L844.23,439.44 L842.93,436.83 L841.63,434.23 L840.32,431.62 L839.02,429.02 L837.72,426.42 L836.42,423.81 L835.12,421.21 L833.81,418.60 L832.51,416.00"/>
<path d="M869.76,478.50 L868.46,475.90 L867.16,473.29 L865.86,470.69 L864.55,468.08 L863.25,465.48 L861.95,462.87 L860.65,460.27 L859.35,457.67 L858.04,455.06 L856.74,452.46 L855.44,449.85 L854.14,447.25 L852.84,444.65 L851.53,442.04 L850.23,439.44 L848.93,436.83 L847.63,434.23 L846.32,431.62 L845.02,429.02 L843.72,426.42 L842.42,423.81 L841.12,421.21 L839.81,418.60 L838.51,416.00"/>
<path d="M875.76,478.50 L874.46,475.90 L873.16,473.29 L871.86,470.69 L870.55,468.08 L869.25,465.48 L867.95,462.87 L866.65,460.27 L865.35,457.67 L864.04,455.06 L862.74,452.46 L861.44,449.85 L860.14,447.25 L858.84,444.65 L857.53,442.04 L856.23,439.44 L854.93,436.83 L853.63,434.23 L852.32,431.62 L851.02,429.02 L849.72,426.42 L848.42,423.81 L847.12,421.21 L845.81,418.60 L844.51,416.00"/>
</g>
<path d="M693,409.5 Q695,402.5 712,400.8 L772,400.8 Q785,401.5 789,405.5 L789,409.5 Z" stroke="#88898c" stroke-width="2.0" fill="#fff" />
<path d="M712,404.5 Q740,401.5 770,404.5" stroke="#a9aaad" stroke-width="1.0" fill="none" />
<line x1="694" y1="407.2" x2="789" y2="407.2" stroke="#a9aaad" stroke-width="1.4" />
<path d="M612,482 C613,460 615,440 620,428 C625,416 630,411 640,410 L657,410 L658,408.5 L693,408.5 L693,410 L792,410 C806,411 813,420 817,432 C821,445 823,460 823.5,482" stroke="#88898c" stroke-width="2.2" fill="none" />
<line x1="630" y1="417.1" x2="810" y2="417.1" stroke="#88898c" stroke-width="3.0" />
<path d="M619.5,475 C620,455 622,437 626,426" stroke="#b4b5b8" stroke-width="1.0" fill="none" />
<path d="M817,475 C816.5,455 815,437 812,426" stroke="#b4b5b8" stroke-width="1.0" fill="none" />
<rect x="612.5" y="475.8" width="211" height="6" rx="0" stroke="#88898c" stroke-width="0" fill="#cbccce" />
<line x1="612" y1="476.2" x2="823.5" y2="476.2" stroke="#88898c" stroke-width="2.6" />
<line x1="612" y1="481.8" x2="823.5" y2="481.8" stroke="#88898c" stroke-width="2.2" />
<path d="M770,431.8 L806,431.8 Q816,432 816,442 L816,455 Q816,465 806,465 L772,465 Q757,464 757,448.5 Q757,433 770,431.8 Z" stroke="#88898c" stroke-width="0" fill="#8d8e91" />
<path d="M775,434.8 L805,434.8 Q813.8,435 813.8,443 L813.8,453 Q813.8,461.8 805,461.8 L776,461.8 Q766.3,461 766.3,448.3 Q766.3,435.5 775,434.8 Z" stroke="#88898c" stroke-width="0" fill="#fff" />
<path d="M760,440 Q759,448 761,457" stroke="#b0b1b3" stroke-width="1.2" fill="none" />
<line x1="626.3" y1="482" x2="626.3" y2="737" stroke="#88898c" stroke-width="2.8" />
<line x1="724.5" y1="482" x2="724.5" y2="737" stroke="#88898c" stroke-width="2.8" />
<line x1="809.4" y1="482" x2="809.4" y2="737" stroke="#88898c" stroke-width="2.6" />
<line x1="724.5" y1="495.2" x2="809.4" y2="495.2" stroke="#88898c" stroke-width="1.8" />
<path d="M625.5,499 L630,498.5 L632,500 L710,500 L713,498.5 L724.5,498.5" stroke="#88898c" stroke-width="1.8" fill="none" />
<line x1="637" y1="483" x2="637" y2="498" stroke="#b4b5b8" stroke-width="1.2" />
<line x1="647" y1="483" x2="647" y2="498" stroke="#88898c" stroke-width="1.6" />
<line x1="686" y1="483" x2="686" y2="498" stroke="#88898c" stroke-width="1.6" />
<line x1="699" y1="483" x2="699" y2="498" stroke="#b4b5b8" stroke-width="1.2" />
<rect x="652" y="508.5" width="30" height="10" rx="2.5" stroke="#88898c" stroke-width="2.0" fill="none" />
<rect x="614.4" y="737.8" width="206" height="7.2" rx="2.5" stroke="#8d8e91" stroke-width="1.4" fill="#aeafb2" />
<path d="M617.8,745 L617.8,1090 C618,1115 625,1135 636,1140" stroke="#a6a7aa" stroke-width="2.0" fill="none" />
<path d="M817,745 L817,1084 C816.5,1120 805,1140 785,1146 L697,1146" stroke="#a6a7aa" stroke-width="2.0" fill="none" />
<line x1="697" y1="1140" x2="785" y2="1140" stroke="#b4b5b8" stroke-width="1.4" />
<path d="M646.6,1055.6 C652,1049.5 656,1048.5 660.4,1048.7 C676,1049 686,1065 685.8,1085.5 C685.5,1100 680,1112 674.5,1126" stroke="#88898c" stroke-width="1.9" fill="none" />
<path d="M646.6,1055.6 C634,1060 629,1072 629.2,1085 C629.3,1100 631,1117 637.4,1133" stroke="#88898c" stroke-width="1.9" fill="none" />
<path d="M646.6,1055.6 C660,1058 671,1068 672.5,1085 C673,1100 673,1115 674,1133" stroke="#88898c" stroke-width="1.9" fill="none" />
<path d="M645,1059 C657,1063 666,1072 667.5,1086 C668.5,1100 669,1115 670.5,1131" stroke="#b4b5b8" stroke-width="1.1" fill="none" />
<ellipse cx="648" cy="1087" rx="14.2" ry="21.8" stroke="#88898c" stroke-width="2.0" fill="none" />
<line x1="674" y1="1085.5" x2="686" y2="1085.5" stroke="#88898c" stroke-width="1.1" />
<line x1="674" y1="1091" x2="686" y2="1091" stroke="#b4b5b8" stroke-width="1.1" />
<path d="M637.4,1145.5 L637.4,1134 Q640,1133 643,1135 Q647,1137 650,1134 Q655,1138 660,1136 Q667,1135 675,1132 Q682,1133 688,1135 Q692,1139 697,1145.5 Z" stroke="#88898c" stroke-width="1.9" fill="none" />
<line x1="650.0" y1="1057.5" x2="645.0" y2="1060.5" stroke="#a5a6a9" stroke-width="1.1" />
<line x1="652.4" y1="1060.1" x2="647.4" y2="1063.1" stroke="#a5a6a9" stroke-width="1.1" />
<line x1="654.8" y1="1062.9" x2="649.8" y2="1065.9" stroke="#a5a6a9" stroke-width="1.1" />
<line x1="657.1" y1="1065.8" x2="652.1" y2="1068.8" stroke="#a5a6a9" stroke-width="1.1" />
<line x1="659.5" y1="1069.0" x2="654.5" y2="1072.0" stroke="#a5a6a9" stroke-width="1.1" />
<line x1="661.9" y1="1072.3" x2="656.9" y2="1075.3" stroke="#a5a6a9" stroke-width="1.1" />
<line x1="664.2" y1="1075.9" x2="659.2" y2="1078.9" stroke="#a5a6a9" stroke-width="1.1" />
<line x1="666.6" y1="1079.6" x2="661.6" y2="1082.6" stroke="#a5a6a9" stroke-width="1.1" />
<line x1="669.0" y1="1083.5" x2="664.0" y2="1086.5" stroke="#a5a6a9" stroke-width="1.1" />
<line x1="300.2" y1="435.7" x2="437.3" y2="435.7" stroke="#353535" stroke-width="2.2" />
<ellipse cx="437.3" cy="435.7" rx="2.4" ry="2.4" stroke="#353535" stroke-width="0" fill="#353535" />
<line x1="300" y1="532.5" x2="437.5" y2="532.5" stroke="#353535" stroke-width="2.2" />
<ellipse cx="437.5" cy="532.5" rx="2.4" ry="2.4" stroke="#353535" stroke-width="0" fill="#353535" />
<line x1="285" y1="593.3" x2="437.5" y2="593.3" stroke="#353535" stroke-width="2.2" />
<ellipse cx="437.5" cy="593.3" rx="2.4" ry="2.4" stroke="#353535" stroke-width="0" fill="#353535" />
<line x1="319.5" y1="656" x2="432" y2="639.6" stroke="#353535" stroke-width="1.9" />
<ellipse cx="432" cy="639.6" rx="2.4" ry="2.4" stroke="#353535" stroke-width="0" fill="#353535" />
<line x1="319.5" y1="656" x2="432" y2="658.6" stroke="#353535" stroke-width="1.9" />
<ellipse cx="432" cy="658.6" rx="2.4" ry="2.4" stroke="#353535" stroke-width="0" fill="#353535" />
<line x1="319.5" y1="656" x2="432" y2="676.5" stroke="#353535" stroke-width="1.9" />
<ellipse cx="432" cy="676.5" rx="2.4" ry="2.4" stroke="#353535" stroke-width="0" fill="#353535" />
<line x1="319.5" y1="656" x2="432" y2="695.5" stroke="#353535" stroke-width="1.9" />
<ellipse cx="432" cy="695.5" rx="2.4" ry="2.4" stroke="#353535" stroke-width="0" fill="#353535" />
<line x1="324.5" y1="715.5" x2="433" y2="708" stroke="#353535" stroke-width="2.2" />
<ellipse cx="433" cy="708" rx="2.4" ry="2.4" stroke="#353535" stroke-width="0" fill="#353535" />
<line x1="747" y1="403.5" x2="905.8" y2="345.2" stroke="#353535" stroke-width="2.2" />
<ellipse cx="905.8" cy="345.2" rx="2.4" ry="2.4" stroke="#353535" stroke-width="0" fill="#353535" />
<line x1="820" y1="449.3" x2="912.7" y2="449.5" stroke="#353535" stroke-width="2.2" />
<ellipse cx="912.7" cy="449.5" rx="2.4" ry="2.4" stroke="#353535" stroke-width="0" fill="#353535" />
<line x1="800" y1="815.3" x2="921.3" y2="815.3" stroke="#353535" stroke-width="2.2" />
<ellipse cx="921.3" cy="815.3" rx="2.2" ry="2.2" stroke="#353535" stroke-width="0" fill="#353535" />
<line x1="663" y1="1094.7" x2="919.3" y2="1095.3" stroke="#353535" stroke-width="2.2" />
<ellipse cx="919.3" cy="1095.3" rx="2.2" ry="2.2" stroke="#353535" stroke-width="0" fill="#353535" />
<text x="142.0" y="429.4" font-size="22.8" textLength="150.7" lengthAdjust="spacingAndGlyphs" fill="#6e6e70">Nozzle Release</text>
<text x="221.8" y="457.9" font-size="22.8" textLength="71.9" lengthAdjust="spacingAndGlyphs" fill="#6e6e70">Button</text>
<text x="146.6" y="539.6" font-size="22.8" textLength="145.4" lengthAdjust="spacingAndGlyphs" fill="#6e6e70">On/Off Button</text>
<text x="146.4" y="598.1999999999999" font-size="22.8" textLength="136.6" lengthAdjust="spacingAndGlyphs" fill="#6e6e70">Mode Button</text>
<text x="156.6" y="661.3" font-size="22.8" textLength="155.5" lengthAdjust="spacingAndGlyphs" fill="#6e6e70">Mode Indicator</text>
<text x="131.8" y="719.0" font-size="22.8" textLength="189.4" lengthAdjust="spacingAndGlyphs" fill="#6e6e70">Charging Indicator</text>
<text x="910.4" y="340.2" font-size="22.8" textLength="154.2" lengthAdjust="spacingAndGlyphs" fill="#6e6e70">Nozzle Storage</text>
<text x="910.4" y="368.7" font-size="22.8" textLength="70.6" lengthAdjust="spacingAndGlyphs" fill="#6e6e70">Bin Lid</text>
<text x="904.6" y="440.4" font-size="22.8" textLength="166.4" lengthAdjust="spacingAndGlyphs" fill="#6e6e70">Charging Socket</text>
<text x="904.6" y="468.9" font-size="22.8" textLength="77.2" lengthAdjust="spacingAndGlyphs" fill="#6e6e70">and Lid</text>
<text x="934.6" y="823.6" font-size="22.8" textLength="111.7" lengthAdjust="spacingAndGlyphs" fill="#6e6e70">Water Tank</text>
<text x="930.4" y="1102.2" font-size="22.8" textLength="110.6" lengthAdjust="spacingAndGlyphs" fill="#6e6e70">Water Tank</text>
<text x="929.4" y="1130.9" font-size="22.8" textLength="42.2" lengthAdjust="spacingAndGlyphs" fill="#6e6e70">Cap</text>
</svg></body></html>
